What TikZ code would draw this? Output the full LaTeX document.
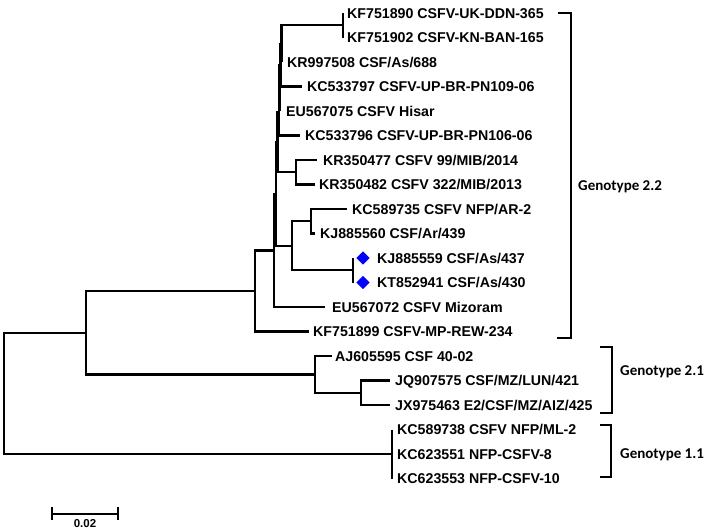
\documentclass[tikz,border=0pt]{standalone}
\usepackage{fontspec}
\setmainfont{Liberation Sans}
\newfontfamily\calfont{Carlito}
\usetikzlibrary{shapes.geometric}
\begin{document}
\begin{tikzpicture}[x=1pt,y=-1pt,
  br/.style={line width=2.2pt},
  brk/.style={line width=1.6pt},
  lab/.style={anchor=base west,inner sep=0pt,font=\fontsize{14.2}{16}\selectfont\bfseries},
  geno/.style={anchor=base west,inner sep=0pt,font=\calfont\fontsize{15}{17}\selectfont\bfseries},
  mark diamond/.style={diamond,fill=blue,draw=none,minimum width=13.5pt,minimum height=13.5pt,inner sep=0pt}]
\useasboundingbox (0,0) rectangle (708,530);
% leaf ends
\coordinate (e1) at (343,13);
\coordinate (e2) at (343,37.5);
\coordinate (e3) at (281.5,62);
\coordinate (e4) at (302,86.5);
\coordinate (e5) at (279.5,111);
\coordinate (e6) at (300,135.5);
\coordinate (e7) at (317,160);
\coordinate (e8) at (315,184.5);
\coordinate (e9) at (347,209);
\coordinate (e10) at (315,233.5);
\coordinate (e11) at (353,258);
\coordinate (e12) at (353,282.5);
\coordinate (e13) at (325,307);
\coordinate (e14) at (309,331.5);
\coordinate (e15) at (332,356);
\coordinate (e16) at (390,380.5);
\coordinate (e17) at (390,405);
\coordinate (e18) at (392,429.5);
\coordinate (e19) at (392,454);
\coordinate (e20) at (392,478.5);
% internal nodes
\coordinate (n1) at (343,25.25);
\coordinate (n2) at (281.5,43.6);
\coordinate (n3) at (280.5,65);
\coordinate (n4) at (279.5,88);
\coordinate (n5) at (279,111.8);
\coordinate (krp) at (296,172.25);
\coordinate (n6) at (277.5,142);
\coordinate (nf) at (311,221.25);
\coordinate (np) at (353,270.25);
\coordinate (ne) at (292,245.75);
\coordinate (n7) at (276,193.9);
\coordinate (nc) at (274,250.4);
\coordinate (nb) at (255,291);
\coordinate (g21b) at (361,392.75);
\coordinate (g21) at (315,374.4);
\coordinate (na) at (86,332.7);
\coordinate (g11) at (392,454);
\coordinate (root) at (4,393.3);
% branches
\draw[br] (n1) |- (e1); \draw[br] (n1) |- (e2);
\draw[br] (n2) |- (n1); \draw[br] (n2) |- (e3);
\draw[br] (n3) |- (n2); \draw[br] (n3) |- (e4);
\draw[br] (n4) |- (n3); \draw[br] (n4) |- (e5);
\draw[br] (n5) |- (n4); \draw[br] (n5) |- (e6);
\draw[br] (krp) |- (e7); \draw[br] (krp) |- (e8);
\draw[br] (n6) |- (n5); \draw[br] (n6) |- (krp);
\draw[br] (nf) |- (e9); \draw[br] (nf) |- (e10);
\draw[br] (np) |- (e11); \draw[br] (np) |- (e12);
\draw[br] (ne) |- (nf); \draw[br] (ne) |- (np);
\draw[br] (n7) |- (n6); \draw[br] (n7) |- (ne);
\draw[br] (nc) |- (n7); \draw[br] (nc) |- (e13);
\draw[br] (nb) |- (nc); \draw[br] (nb) |- (e14);
\draw[br] (g21b) |- (e16); \draw[br] (g21b) |- (e17);
\draw[br] (g21) |- (e15); \draw[br] (g21) |- (g21b);
\draw[br] (na) |- (nb); \draw[br] (na) |- (g21);
\draw[br] (g11) |- (e18); \draw[br] (g11) |- (e20);
\draw[br] (root) |- (na); \draw[br] (root) |- (g11);
% labels
\node[lab] (t1) at (347,18) {KF751890 CSFV-UK-DDN-365};
\node[lab] (t2) at (347,42.5) {KF751902 CSFV-KN-BAN-165};
\node[lab] (t3) at (287,67) {KR997508 CSF/As/688};
\node[lab] (t4) at (307,91.5) {KC533797 CSFV-UP-BR-PN109-06};
\node[lab] (t5) at (286,116) {EU567075 CSFV Hisar};
\node[lab] (t6) at (305,140.5) {KC533796 CSFV-UP-BR-PN106-06};
\node[lab] (t7) at (323,165) {KR350477 CSFV 99/MIB/2014};
\node[lab] (t8) at (319,189.5) {KR350482 CSFV 322/MIB/2013};
\node[lab] (t9) at (352,214) {KC589735 CSFV NFP/AR-2};
\node[lab] (t10) at (320,238.5) {KJ885560 CSF/Ar/439};
\node[lab] (t11) at (377,263) {KJ885559 CSF/As/437};
\node[lab] (t12) at (377,287.5) {KT852941 CSF/As/430};
\node[lab] (t13) at (332,312) {EU567072 CSFV Mizoram};
\node[lab] (t14) at (313,336.5) {KF751899 CSFV-MP-REW-234};
\node[lab] (t15) at (335,361) {AJ605595 CSF 40-02};
\node[lab] (t16) at (395,385.5) {JQ907575 CSF/MZ/LUN/421};
\node[lab] (t17) at (395,410) {JX975463 E2/CSF/MZ/AIZ/425};
\node[lab] (t18) at (397,434.5) {KC589738 CSFV NFP/ML-2};
\node[lab] (t19) at (397,459) {KC623551 NFP-CSFV-8};
\node[lab] (t20) at (397,483.5) {KC623553 NFP-CSFV-10};
% diamonds
\node[mark diamond] (d11) at (363,258) {};
\node[mark diamond] (d12) at (363,282.5) {};
% genotype brackets
\draw[brk] (558,13) -- (571,13) -- (571,338) -- (557,338);
\draw[brk] (600,347) -- (612,347) -- (612,413) -- (600,413);
\draw[brk] (600,425) -- (611,425) -- (611,477) -- (600,477);
\node[geno] (g22l) at (578,190) {Genotype 2.2};
\node[geno] (g21l) at (620,375) {Genotype 2.1};
\node[geno] (g11l) at (620,458) {Genotype 1.1};
% scale bar
\coordinate (s1) at (52,514);
\coordinate (s2) at (118,514);
\draw[line width=2.6pt] (s1) -- (s2);
\draw[line width=2.2pt] ([yshift=7pt]s1) -- ([yshift=-6pt]s1);
\draw[line width=2.2pt] ([yshift=7pt]s2) -- ([yshift=-6pt]s2);
\node[anchor=base,inner sep=0pt,font=\fontsize{11.5}{13}\selectfont\bfseries] (sl) at (85,527.5) {0.02};
\end{tikzpicture}
\end{document}
